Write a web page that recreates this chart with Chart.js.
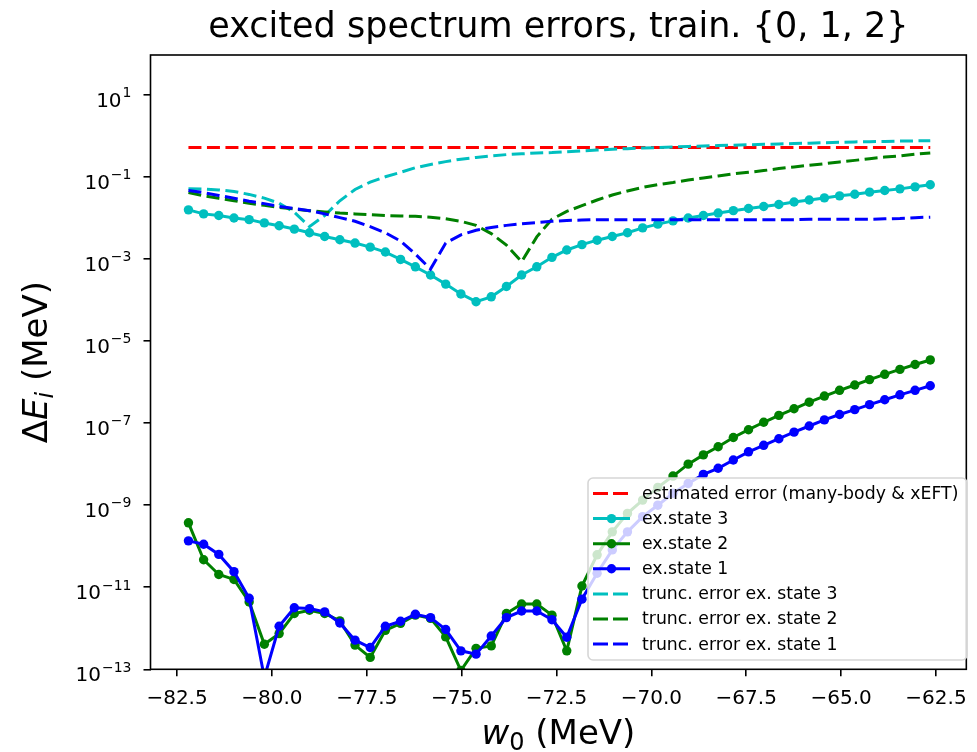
<!DOCTYPE html>
<html>
<head>
<meta charset="utf-8">
<script src="https://cdn.jsdelivr.net/npm/chart.js@4.4.1/dist/chart.umd.min.js"></script>
<style>
  body { margin: 0; background: #fff; }
  #wrap { width: 977px; height: 752px; }
</style>
</head>
<body>
<div id="wrap"><canvas id="chart" width="977" height="752"></canvas></div>
<script>
// w0 grid (MeV)
const wValues = [-82.20, -81.80, -81.40, -81.00, -80.60, -80.20, -79.81, -79.41, -79.01, -78.61,
  -78.21, -77.81, -77.41, -77.01, -76.61, -76.22, -75.82, -75.42, -75.02, -74.62,
  -74.22, -73.82, -73.42, -73.02, -72.62, -72.23, -71.83, -71.43, -71.03, -70.63,
  -70.23, -69.83, -69.43, -69.03, -68.63, -68.24, -67.84, -67.44, -67.04, -66.64,
  -66.24, -65.84, -65.44, -65.04, -64.64, -64.25, -63.85, -63.45, -63.05, -62.65];

// estimated error line (many-body & xEFT), constant
const estErrW = [-82.20, -62.65];
const estErr = [0.52, 0.52];

// errors of the excited states
const exState3 = [0.0158, 0.0126, 0.0115, 0.0100, 0.00912, 0.00759, 0.00646, 0.00537, 0.00437, 0.00355,
  0.00295, 0.00245, 0.00195, 0.00148, 0.000977, 0.000646, 0.000407, 0.000245, 0.000141, 0.0000912,
  0.000120, 0.000214, 0.000407, 0.000646, 0.00110, 0.00166, 0.00224, 0.00288, 0.00355, 0.00437,
  0.00575, 0.00708, 0.00851, 0.0100, 0.0115, 0.0132, 0.0151, 0.0170, 0.0191, 0.0214,
  0.0245, 0.0275, 0.0309, 0.0347, 0.0380, 0.0427, 0.0468, 0.0513, 0.0575, 0.0646];
const exState2 = [3.72e-10, 4.68e-11, 2.04e-11, 1.55e-11, 4.37e-12, 4.07e-13, 7.41e-13, 2.29e-12, 2.75e-12, 2.29e-12,
  1.51e-12, 3.89e-13, 1.95e-13, 8.91e-13, 1.32e-12, 2.09e-12, 1.74e-12, 6.17e-13, 9.33e-14, 3.24e-13,
  3.72e-13, 2.29e-12, 3.89e-12, 3.89e-12, 2.09e-12, 2.82e-13, 1.07e-11, 6.17e-11, 2.24e-10, 6.31e-10,
  1.33e-9, 2.72e-9, 5.13e-9, 1.00e-8, 1.68e-8, 2.66e-8, 4.47e-8, 6.92e-8, 1.05e-7, 1.55e-7,
  2.24e-7, 3.24e-7, 4.57e-7, 6.31e-7, 8.51e-7, 1.15e-6, 1.55e-6, 2.04e-6, 2.69e-6, 3.47e-6];
const exState1 = [1.35e-10, 1.12e-10, 6.31e-11, 2.40e-11, 5.37e-12, 6.31e-14, 1.12e-12, 3.16e-12, 3.02e-12, 2.51e-12,
  1.35e-12, 5.13e-13, 3.39e-13, 1.12e-12, 1.48e-12, 2.19e-12, 1.82e-12, 9.33e-13, 2.82e-13, 2.34e-13,
  6.46e-13, 1.82e-12, 2.63e-12, 2.63e-12, 1.62e-12, 6.03e-13, 5.13e-12, 2.19e-11, 8.13e-11, 2.24e-10,
  5.25e-10, 1.00e-9, 1.95e-9, 3.39e-9, 5.62e-9, 7.94e-9, 1.26e-8, 2.00e-8, 2.88e-8, 4.17e-8,
  6.03e-8, 8.51e-8, 1.20e-7, 1.62e-7, 2.14e-7, 2.82e-7, 3.72e-7, 4.90e-7, 6.31e-7, 8.13e-7];

// truncation errors
const truncErr3 = [0.0519, 0.0507, 0.0484, 0.0442, 0.0376, 0.0305, 0.0229, 0.0138, 0.00617, 0.0115,
  0.0263, 0.0495, 0.0750, 0.101, 0.130, 0.168, 0.202, 0.237, 0.272, 0.299,
  0.327, 0.351, 0.367, 0.385, 0.394, 0.412, 0.432, 0.452, 0.473, 0.490,
  0.507, 0.519, 0.537, 0.556, 0.569, 0.582, 0.596, 0.610, 0.624, 0.638,
  0.653, 0.668, 0.684, 0.700, 0.716, 0.724, 0.733, 0.750, 0.759, 0.767];
const truncErr2 = [0.0417, 0.0347, 0.0302, 0.0263, 0.0229, 0.0204, 0.0182, 0.0166, 0.0151, 0.0141,
  0.0132, 0.0126, 0.0120, 0.0115, 0.0112, 0.0110, 0.0105, 0.00955, 0.00832, 0.00661,
  0.00417, 0.00219, 0.000861, 0.00347, 0.00933, 0.0145, 0.0200, 0.0275, 0.0363, 0.0457,
  0.0556, 0.0653, 0.0733, 0.0841, 0.0944, 0.106, 0.119, 0.130, 0.143, 0.160,
  0.176, 0.193, 0.211, 0.232, 0.254, 0.279, 0.305, 0.327, 0.359, 0.385];
const truncErr1 = [0.0468, 0.0417, 0.0355, 0.0302, 0.0257, 0.0224, 0.0191, 0.0170, 0.0151, 0.0126,
  0.0102, 0.00832, 0.00617, 0.00437, 0.00275, 0.00132, 0.000569, 0.00245, 0.00389, 0.00501,
  0.00589, 0.00661, 0.00724, 0.00776, 0.00832, 0.00871, 0.00891, 0.00912, 0.00912, 0.00912,
  0.00912, 0.00912, 0.00912, 0.00912, 0.00912, 0.00912, 0.00912, 0.00912, 0.00912, 0.00912,
  0.00912, 0.00933, 0.00933, 0.00933, 0.00933, 0.00933, 0.00955, 0.00977, 0.0102, 0.0105];

// ticks
const xTickValues = [-82.5, -80, -77.5, -75, -72.5, -70, -67.5, -65, -62.5];
const xTickLabels = ['\u221282.5', '\u221280.0', '\u221277.5', '\u221275.0', '\u221272.5', '\u221270.0', '\u221267.5', '\u221265.0', '\u221262.5'];
const yTickValues = [1e1, 1e-1, 1e-3, 1e-5, 1e-7, 1e-9, 1e-11, 1e-13];
const yTickExps = ['1', '\u22121', '\u22123', '\u22125', '\u22127', '\u22129', '\u221211', '\u221213'];

const FONT = "'DejaVu Sans', 'Liberation Sans', sans-serif";
const DASH = [13, 5.5];

function pts(xs, ys) {
  return ys.map((y, i) => ({ x: xs[i], y: y }));
}

function solid(label, color, ys, order) {
  return {
    label: label, data: pts(wValues, ys), borderColor: color, backgroundColor: color,
    borderWidth: 3, pointRadius: 4.7, pointBorderWidth: 0, pointBackgroundColor: color,
    tension: 0, order: order
  };
}
function dashed(label, color, xs, ys, order) {
  return {
    label: label, data: pts(xs, ys), borderColor: color, backgroundColor: color,
    borderWidth: 3, borderDash: DASH, pointRadius: 0, tension: 0, order: order
  };
}

// draws a row of text pieces centred on the current origin
function drawPieces(ctx, pieces) {
  let total = 0;
  pieces.forEach(p => { ctx.font = p.font; p.w = ctx.measureText(p.text).width; total += p.w; });
  let x = -total / 2;
  pieces.forEach(p => {
    ctx.font = p.font;
    ctx.fillText(p.text, x, p.dy || 0);
    x += p.w;
  });
}

// frame, 10^n tick labels, axis titles and the legend box inside the axes
const decorPlugin = {
  id: 'decor',
  afterDatasetsDraw(chart) {
    const ctx = chart.ctx;
    const a = chart.chartArea;
    ctx.save();
    ctx.strokeStyle = '#000';
    ctx.lineWidth = 1.6;
    ctx.strokeRect(a.left, a.top, a.right - a.left, a.bottom - a.top);

    // legend
    const bx = 588, by = 478, bw = 379, bh = 182, r = 5;
    ctx.beginPath();
    ctx.roundRect(bx, by, bw, bh, r);
    ctx.fillStyle = 'rgba(255,255,255,0.8)';
    ctx.fill();
    ctx.strokeStyle = '#d6d6d6';
    ctx.lineWidth = 1.6;
    ctx.stroke();

    ctx.font = '17.3px ' + FONT;
    ctx.textBaseline = 'middle';
    chart.data.datasets.forEach((ds, k) => {
      const cy = 493.5 + k * 25.1;
      ctx.strokeStyle = ds.borderColor;
      ctx.lineWidth = 3;
      ctx.setLineDash(ds.borderDash ? [15, 5] : []);
      ctx.beginPath();
      ctx.moveTo(593, cy);
      ctx.lineTo(630, cy);
      ctx.stroke();
      ctx.setLineDash([]);
      if (ds.pointRadius > 0) {
        ctx.fillStyle = ds.borderColor;
        ctx.beginPath();
        ctx.arc(611.5, cy, ds.pointRadius, 0, Math.PI * 2);
        ctx.fill();
      }
      ctx.fillStyle = '#000';
      ctx.fillText(ds.label, 642, cy + 1);
    });
    ctx.restore();
  },
  afterDraw(chart) {
    const ctx = chart.ctx;
    const a = chart.chartArea;
    const ys = chart.scales.y;

    // y tick labels as 10 with a raised exponent
    ctx.save();
    ctx.fillStyle = '#000';
    ctx.textBaseline = 'alphabetic';
    ctx.textAlign = 'left';
    yTickValues.forEach((v, i) => {
      const py = ys.getPixelForValue(v);
      ctx.font = '14px ' + FONT;
      const we = ctx.measureText(yTickExps[i]).width;
      ctx.font = '20px ' + FONT;
      const wb = ctx.measureText('10').width;
      const right = a.left - 19;
      ctx.fillText('10', right - we - wb - 1, py + 11.7);
      ctx.font = '14px ' + FONT;
      ctx.fillText(yTickExps[i], right - we, py + 2.3);
    });
    ctx.restore();

    // x title
    ctx.save();
    ctx.fillStyle = '#000';
    ctx.textBaseline = 'alphabetic';
    ctx.translate((a.left + a.right) / 2, 744);
    drawPieces(ctx, [
      { text: 'w', font: 'italic 34px ' + FONT },
      { text: '0', font: '24px ' + FONT, dy: 6 },
      { text: ' (MeV)', font: '34px ' + FONT }
    ]);
    ctx.restore();

    // y title
    ctx.save();
    ctx.fillStyle = '#000';
    ctx.textBaseline = 'alphabetic';
    ctx.translate(46.5, (a.top + a.bottom) / 2);
    ctx.rotate(-Math.PI / 2);
    drawPieces(ctx, [
      { text: '\u0394', font: '34px ' + FONT },
      { text: 'E', font: 'italic 34px ' + FONT },
      { text: 'i', font: 'italic 24px ' + FONT, dy: 6 },
      { text: ' (MeV)', font: '34px ' + FONT }
    ]);
    ctx.restore();
  }
};

new Chart(document.getElementById('chart'), {
  type: 'line',
  data: {
    datasets: [
      dashed('estimated error (many-body & xEFT)', '#ff0000', estErrW, estErr, 7),
      solid('ex.state 3', '#00bfbf', exState3, 6),
      solid('ex.state 2', '#008000', exState2, 5),
      solid('ex.state 1', '#0000ff', exState1, 4),
      dashed('trunc. error ex. state 3', '#00bfbf', wValues, truncErr3, 3),
      dashed('trunc. error ex. state 2', '#008000', wValues, truncErr2, 2),
      dashed('trunc. error ex. state 1', '#0000ff', wValues, truncErr1, 1)
    ]
  },
  plugins: [decorPlugin],
  options: {
    responsive: false,
    devicePixelRatio: 1,
    animation: false,
    layout: { padding: { left: 0, right: 4.5, top: 0, bottom: 0 } },
    plugins: {
      legend: { display: false },
      tooltip: { enabled: false },
      title: {
        display: true,
        text: 'excited spectrum errors, train. {0, 1, 2}',
        fullSize: false,
        color: '#000',
        font: { family: FONT, size: 35, weight: 'normal' },
        padding: { top: 6.5, bottom: 6.5 }
      }
    },
    scales: {
      x: {
        type: 'linear',
        min: -83.2,
        max: -61.7,
        bounds: 'data',
        afterBuildTicks: s => { s.ticks = xTickValues.map(v => ({ value: v })); },
        afterFit: s => { s.height = 82.7; },
        grid: { drawOnChartArea: false, drawTicks: true, tickLength: 7, color: '#000', lineWidth: 1.6 },
        border: { display: false },
        ticks: {
          autoSkip: false, maxRotation: 0, padding: 10, color: '#000',
          font: { family: FONT, size: 20 },
          callback: (v, i) => xTickLabels[i]
        }
      },
      y: {
        type: 'logarithmic',
        min: 1e-13,
        max: 94,
        bounds: 'data',
        afterBuildTicks: s => { s.ticks = yTickValues.map(v => ({ value: v })); },
        afterFit: s => { s.width = 150.5; },
        grid: { drawOnChartArea: false, drawTicks: true, tickLength: 7, color: '#000', lineWidth: 1.6 },
        border: { display: false },
        ticks: { display: false }
      }
    }
  }
});
</script>
</body>
</html>
